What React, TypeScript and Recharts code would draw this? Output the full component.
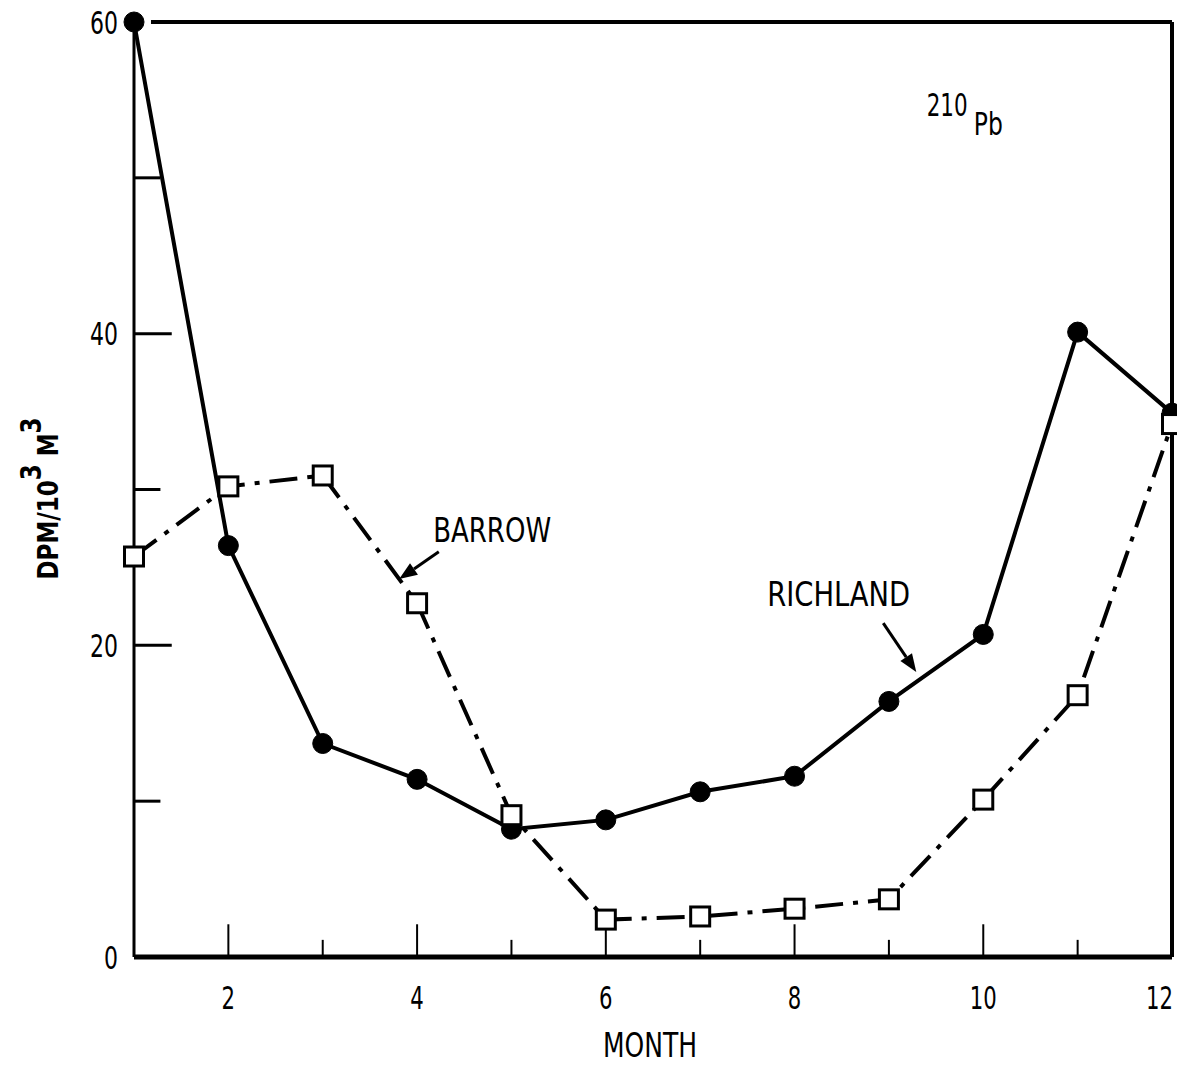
import React from 'react';
import { LineChart, Line, XAxis, YAxis, ReferenceLine, ReferenceDot } from 'recharts';

const months = [1, 2, 3, 4, 5, 6, 7, 8, 9, 10, 11, 12];
const richland = [60, 26.4, 13.7, 11.4, 8.2, 8.8, 10.6, 11.6, 16.4, 20.7, 40.1, 34.9];
const barrow = [25.7, 30.2, 30.9, 22.7, 9.1, 2.4, 2.6, 3.1, 3.7, 10.1, 16.8, 34.2];
const xTickLabels = ['2', '4', '6', '8', '10', '12'];
const yTicks = [0, 10, 20, 30, 40, 50, 60];
const yTickLabels = ['0', '20', '40', '60'];
const xMinorTicks = [3, 5, 7, 9, 11];
const xMajorTicks = [2, 4, 6, 8, 10];
const yMajorTicks = [20, 40];
const yMinorTicks = [10, 30, 50];

const data = months.map((m, i) => ({ month: m, richland: richland[i], barrow: barrow[i] }));

const FONT = '"Liberation Sans Narrow", "DejaVu Sans", sans-serif';

const XTick = (props: any) => {
  const { x, y, payload } = props;
  const label = String(payload.value);
  if (!xTickLabels.includes(label)) return <g />;
  const last = label === '12';
  return (
    <text
      x={last ? x + 1 : x}
      y={y + 52}
      textAnchor={last ? 'end' : 'middle'}
      fontFamily={FONT}
      fontSize={32}
      fill="#000"
      textLength={label.length * 13.5}
      lengthAdjust="spacingAndGlyphs"
    >
      {label}
    </text>
  );
};

const YTick = (props: any) => {
  const { x, y, payload } = props;
  const label = String(payload.value);
  if (!yTickLabels.includes(label)) return <g />;
  return (
    <text
      x={x}
      y={y}
      dy="0.36em"
      textAnchor="end"
      fontFamily={FONT}
      fontSize={32}
      fill="#000"
      textLength={label.length * 14}
      lengthAdjust="spacingAndGlyphs"
    >
      {label}
    </text>
  );
};

const SquareDot = (props: any) => {
  const { cx, cy, index } = props;
  if (cx == null || cy == null) return <g key={index} />;
  return (
    <rect key={index} x={cx - 9.5} y={cy - 9.5} width={19} height={19} fill="#fff" stroke="#000" strokeWidth={3} />
  );
};

const Arrow = (props: any) => {
  const { x1, y1, x2, y2 } = props;
  const dx = x2 - x1;
  const dy = y2 - y1;
  const len = Math.sqrt(dx * dx + dy * dy) || 1;
  const ux = dx / len;
  const uy = dy / len;
  const hl = 18;
  const hw = 7;
  const bx = x2 - ux * hl;
  const by = y2 - uy * hl;
  const p1 = `${bx - uy * hw},${by + ux * hw}`;
  const p2 = `${bx + uy * hw},${by - ux * hw}`;
  return (
    <g>
      <line x1={x1} y1={y1} x2={bx} y2={by} stroke="#000" strokeWidth={3} />
      <polygon points={`${x2},${y2} ${p1} ${p2}`} fill="#000" />
    </g>
  );
};

const textLabel = (value: string, size: number, width: number) => (props: any) => {
  const vb = props.viewBox || {};
  return (
    <text
      x={vb.x}
      y={vb.y}
      fontFamily={FONT}
      fontSize={size}
      fill="#000"
      textLength={width}
      lengthAdjust="spacingAndGlyphs"
    >
      {value}
    </text>
  );
};

const YLabel = (props: any) => {
  const vb = props.viewBox || {};
  const cx = vb.x + 58;
  const cy = vb.y + vb.height / 2 + 9;
  return (
    <g transform={`translate(${cx}, ${cy}) rotate(-90)`}>
      <text
        x={-81}
        y={0}
        fontFamily={FONT}
        fontSize={28}
        fontWeight="bold"
        fill="#000"
        textLength={162}
        lengthAdjust="spacingAndGlyphs"
      >
        DPM/10
        <tspan dy={-17}>3</tspan>
        <tspan dy={17}> M</tspan>
        <tspan dy={-17}>3</tspan>
      </text>
    </g>
  );
};

const XLabel = (props: any) => {
  const vb = props.viewBox || {};
  return (
    <text
      x={vb.x + vb.width / 2 - 3}
      y={vb.y + 100}
      textAnchor="middle"
      fontFamily={FONT}
      fontSize={33}
      fill="#000"
      textLength={94}
      lengthAdjust="spacingAndGlyphs"
    >
      MONTH
    </text>
  );
};

export default function App() {
  return (
    <div style={{ position: 'absolute', left: 0, top: 0, width: 1177, height: 1065, background: '#fff' }}>
      <LineChart width={1177} height={1065} data={data} margin={{ top: 22, right: 5, left: 0, bottom: 0 }}>
        <XAxis
          dataKey="month"
          type="number"
          domain={[1, 12]}
          ticks={months}
          interval={0}
          tickSize={0}
          tickMargin={0}
          tickLine={false}
          axisLine={{ stroke: '#000', strokeWidth: 5 }}
          tick={<XTick />}
          height={108}
          label={<XLabel />}
        />
        <YAxis
          type="number"
          domain={[0, 60]}
          ticks={yTicks}
          interval={0}
          tickSize={0}
          tickMargin={16}
          tickLine={false}
          axisLine={{ stroke: '#000', strokeWidth: 3 }}
          tick={<YTick />}
          width={134}
          label={<YLabel />}
        />
        <ReferenceLine segment={[{ x: 1.18, y: 60 }, { x: 12, y: 60 }]} stroke="#000" strokeWidth={4} ifOverflow="visible" />
        <ReferenceLine segment={[{ x: 12, y: 0 }, { x: 12, y: 60 }]} stroke="#000" strokeWidth={4} ifOverflow="visible" />
        {xMajorTicks.map((m) => (
          <ReferenceLine key={'xM' + m} segment={[{ x: m, y: 0 }, { x: m, y: 2.1 }]} stroke="#000" strokeWidth={2} ifOverflow="visible" />
        ))}
        {xMinorTicks.map((m) => (
          <ReferenceLine key={'xm' + m} segment={[{ x: m, y: 0 }, { x: m, y: 1.1 }]} stroke="#000" strokeWidth={2} ifOverflow="visible" />
        ))}
        {yMajorTicks.map((v) => (
          <ReferenceLine key={'yM' + v} segment={[{ x: 1, y: v }, { x: 1.4, y: v }]} stroke="#000" strokeWidth={3} ifOverflow="visible" />
        ))}
        {yMinorTicks.map((v) => (
          <ReferenceLine key={'ym' + v} segment={[{ x: 1, y: v }, { x: 1.28, y: v }]} stroke="#000" strokeWidth={3} ifOverflow="visible" />
        ))}
        <Line
          type="linear"
          dataKey="richland"
          stroke="#000"
          strokeWidth={4}
          dot={{ r: 10, fill: '#000', stroke: '#000', strokeWidth: 1 }}
          activeDot={false}
          isAnimationActive={false}
        />
        <Line
          type="linear"
          dataKey="barrow"
          stroke="#000"
          strokeWidth={4}
          strokeDasharray="28 10 5 10"
          dot={<SquareDot />}
          activeDot={false}
          isAnimationActive={false}
        />
        <ReferenceLine segment={[{ x: 4.23, y: 26.0 }, { x: 3.81, y: 24.25 }]} shape={<Arrow />} ifOverflow="visible" />
        <ReferenceLine segment={[{ x: 8.94, y: 21.43 }, { x: 9.29, y: 18.29 }]} shape={<Arrow />} ifOverflow="visible" />
        <ReferenceDot x={9.4} y={54.0} r={0} ifOverflow="visible" label={textLabel('210', 32, 41)} />
        <ReferenceDot x={9.9} y={52.75} r={0} ifOverflow="visible" label={textLabel('Pb', 32, 29)} />
        <ReferenceDot x={4.17} y={26.6} r={0} ifOverflow="visible" label={textLabel('BARROW', 33, 118)} />
        <ReferenceDot x={7.71} y={22.5} r={0} ifOverflow="visible" label={textLabel('RICHLAND', 33, 143)} />
      </LineChart>
    </div>
  );
}
